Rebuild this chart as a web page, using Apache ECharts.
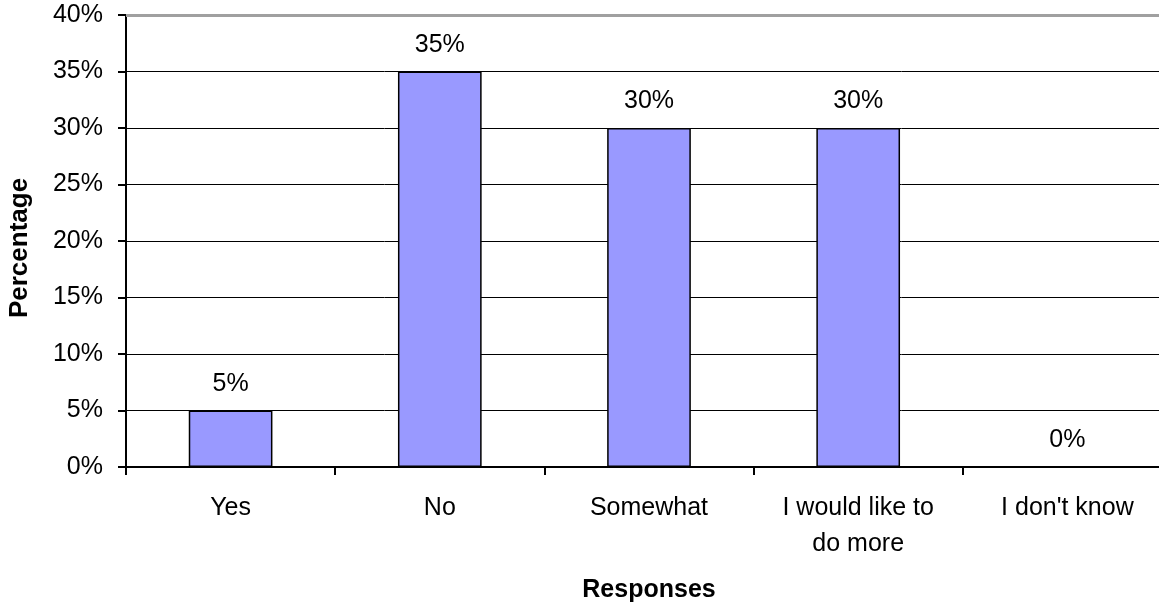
<!DOCTYPE html>
<html>
<head>
<meta charset="utf-8">
<script src="https://cdn.jsdelivr.net/npm/echarts@6/dist/echarts.min.js"></script>
<style>
  html, body { margin: 0; padding: 0; background: #fff; }
  #chart { width: 1159px; height: 608px; }
</style>
</head>
<body>
<div id="chart"></div>
<script>
// data
const categories = ['Yes', 'No', 'Somewhat', 'I would like to\ndo more', "I don't know"];
const percentages = [5, 35, 30, 30, 0];
const yTicks = { min: 0, max: 40, step: 5 };

const font = "'Liberation Sans', Arial, sans-serif";

const chart = echarts.init(document.getElementById('chart'));
chart.setOption({
    backgroundColor: '#fff',
    animation: false,
    // the plot runs a little past the right edge of the picture
    grid: { left: 126, top: 15, width: 1046, bottom: 141, containLabel: false, outerBoundsMode: 'none' },
    xAxis: {
        type: 'category',
        data: categories,
        name: 'Responses',
        nameLocation: 'middle',
        nameGap: 111,
        nameTextStyle: { fontFamily: font, fontSize: 25, fontWeight: 'bold', color: '#000' },
        axisLine: { lineStyle: { color: '#000', width: 2 } },
        axisTick: { show: true, length: 8, lineStyle: { color: '#000', width: 2 } },
        axisLabel: { fontFamily: font, fontSize: 25, color: '#000', margin: 23, lineHeight: 36, interval: 0 }
    },
    yAxis: {
        type: 'value',
        min: yTicks.min,
        max: yTicks.max,
        interval: yTicks.step,
        name: 'Percentage',
        nameLocation: 'middle',
        nameGap: 93,
        nameTextStyle: { fontFamily: font, fontSize: 26, fontWeight: 'bold', color: '#000', padding: [0, 14, 0, 0] },
        axisLine: { show: true, lineStyle: { color: '#000', width: 2 } },
        axisTick: { show: true, length: 8, lineStyle: { color: '#000', width: 2 } },
        axisLabel: { fontFamily: font, fontSize: 25, color: '#000', margin: 23, formatter: '{value}%' },
        splitLine: { show: true, lineStyle: { color: '#000', width: 1 } }
    },
    series: [{
        type: 'bar',
        data: percentages,
        barWidth: '40%',
        itemStyle: { color: '#9999ff', borderColor: '#000', borderWidth: 1.5 },
        label: {
            show: true,
            position: 'top',
            distance: 14,
            formatter: '{c}%',
            fontFamily: font,
            fontSize: 25,
            color: '#000'
        },
        markLine: {
            silent: true,
            symbol: 'none',
            label: { show: false },
            lineStyle: { color: '#a0a0a0', width: 3, type: 'solid' },
            data: [{ yAxis: yTicks.max }]
        }
    }]
});
window.onresize = chart.resize;
</script>
</body>
</html>
